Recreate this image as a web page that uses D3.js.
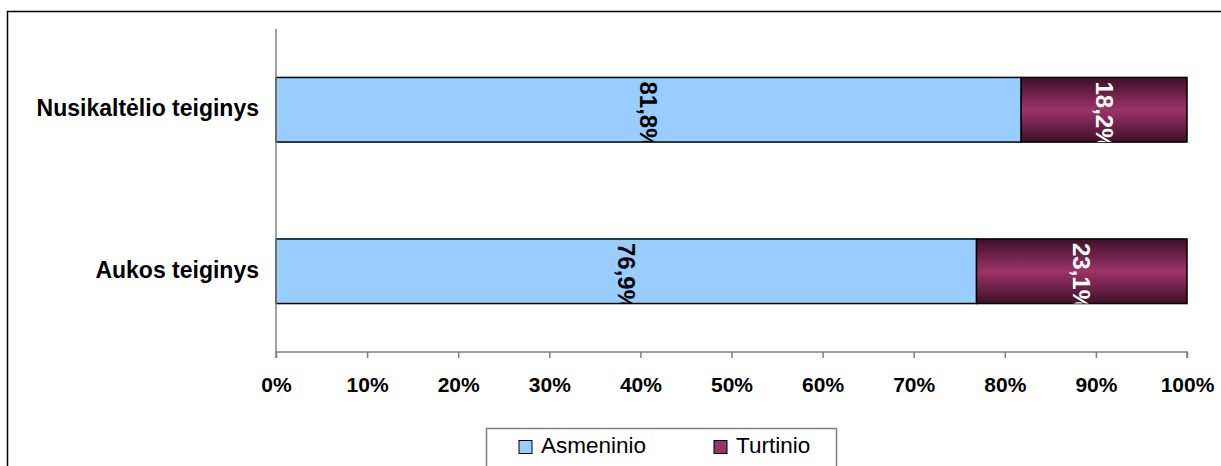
<!DOCTYPE html>
<html>
<head>
<meta charset="utf-8">
<style>
  body { margin: 0; background: #fff; }
  svg { display: block; font-family: Arial, "Liberation Sans", sans-serif; }
</style>
</head>
<body>
<svg width="1221" height="466"></svg>
<script src="https://cdn.jsdelivr.net/npm/d3@7/dist/d3.min.js"></script>
<script>
  // data
  const categories = ['Nusikaltėlio teiginys', 'Aukos teiginys'];
  const seriesNames = ['Asmeninio', 'Turtinio'];
  const asmeninio = [0.818, 0.769];
  const turtinio = [0.182, 0.231];
  const tickValues = [0, 0.1, 0.2, 0.3, 0.4, 0.5, 0.6, 0.7, 0.8, 0.9, 1.0];

  const svg = d3.select('svg');

  // outer chart frame
  svg.append('rect')
    .attr('x', 7.5).attr('y', 11.5)
    .attr('width', 1240).attr('height', 480)
    .attr('fill', '#fff').attr('stroke', '#000').attr('stroke-width', 1.5);

  const plot = { left: 276, right: 1187, top: 29, bottom: 352 };

  const x = d3.scaleLinear().domain([0, 1]).range([plot.left, plot.right]);
  const y = d3.scaleBand().domain(categories).range([plot.top, plot.bottom]).paddingInner(0.6).paddingOuter(0.3);

  const defs = svg.append('defs');
  const grad = defs.append('linearGradient')
    .attr('id', 'maroon').attr('x1', 0).attr('y1', 0).attr('x2', 0).attr('y2', 1);
  grad.append('stop').attr('offset', '0%').attr('stop-color', '#3f1028');
  grad.append('stop').attr('offset', '50%').attr('stop-color', '#9b3466');
  grad.append('stop').attr('offset', '100%').attr('stop-color', '#3f1028');

  const rows = categories.map((c, i) => ({
    cat: c,
    parts: [
      { name: seriesNames[0], x0: 0, x1: asmeninio[i], v: asmeninio[i] },
      { name: seriesNames[1], x0: asmeninio[i], x1: asmeninio[i] + turtinio[i], v: turtinio[i] }
    ]
  }));

  const fills = { 'Asmeninio': '#99ccff', 'Turtinio': 'url(#maroon)' };
  const labelColor = { 'Asmeninio': '#000', 'Turtinio': '#fff' };
  const fmt = v => d3.format('.1f')(v * 100).replace('.', ',') + '%';

  rows.forEach((r, i) => {
    r.parts.forEach((p, j) => {
      const x0 = x(p.x0), x1 = x(p.x1);
      const y0 = y(r.cat), h = y.bandwidth();
      const clipId = 'clip' + i + '_' + j;
      defs.append('clipPath').attr('id', clipId)
        .append('rect').attr('x', x0).attr('y', y0).attr('width', x1 - x0).attr('height', h);

      svg.append('rect')
        .attr('x', x0).attr('y', y0)
        .attr('width', x1 - x0).attr('height', h)
        .attr('fill', fills[p.name])
        .attr('stroke', '#000').attr('stroke-width', 1.5);

      const cx = (x0 + x1) / 2;
      svg.append('g').attr('clip-path', 'url(#' + clipId + ')')
        .append('text')
        .attr('transform', `translate(${cx},${y0 + 4}) rotate(90)`)
        .attr('dy', '0.35em')
        .attr('font-size', 24).attr('font-weight', 'bold')
        .attr('fill', labelColor[p.name])
        .text(fmt(p.v));
    });
  });

  // y axis line
  svg.append('line')
    .attr('x1', plot.left).attr('x2', plot.left)
    .attr('y1', plot.top).attr('y2', plot.bottom)
    .attr('stroke', '#808080').attr('stroke-width', 1.5);

  // category labels
  svg.selectAll('.cat').data(categories).enter().append('text')
    .attr('x', 259)
    .attr('y', d => y(d) + y.bandwidth() / 2)
    .attr('dy', '0.28em')
    .attr('text-anchor', 'end')
    .attr('font-size', 23).attr('font-weight', 'bold')
    .text(d => d);

  // x axis
  const xAxis = d3.axisBottom(x).tickValues(tickValues).tickSize(6).tickPadding(19)
    .tickFormat(d => Math.round(d * 100) + '%');
  const gx = svg.append('g').attr('transform', `translate(0,${plot.bottom})`).call(xAxis);
  gx.select('.domain').attr('stroke', '#808080').attr('stroke-width', 1.5).attr('d', `M${plot.left},6V0H${plot.right}V6`);
  gx.selectAll('.tick line').attr('stroke', '#808080').attr('stroke-width', 1.5);
  gx.selectAll('.tick text')
    .attr('font-size', 21).attr('font-weight', 'bold')
    .attr('font-family', 'Arial, "Liberation Sans", sans-serif')
    .attr('fill', '#000');

  // legend
  const lg = svg.append('g');
  lg.append('rect')
    .attr('x', 486.5).attr('y', 428.5).attr('width', 350).attr('height', 60)
    .attr('fill', '#fff').attr('stroke', '#808080').attr('stroke-width', 1.5);
  const legendX = [519, 714];
  const legendFill = ['#99ccff', '#993366'];
  seriesNames.forEach((s, i) => {
    lg.append('rect')
      .attr('x', legendX[i]).attr('y', 440.5).attr('width', 13).attr('height', 13)
      .attr('fill', legendFill[i]).attr('stroke', '#000').attr('stroke-width', 1);
    lg.append('text')
      .attr('x', legendX[i] + 22).attr('y', 453)
      .attr('font-size', 22.5)
      .text(s);
  });
</script>
</body>
</html>
